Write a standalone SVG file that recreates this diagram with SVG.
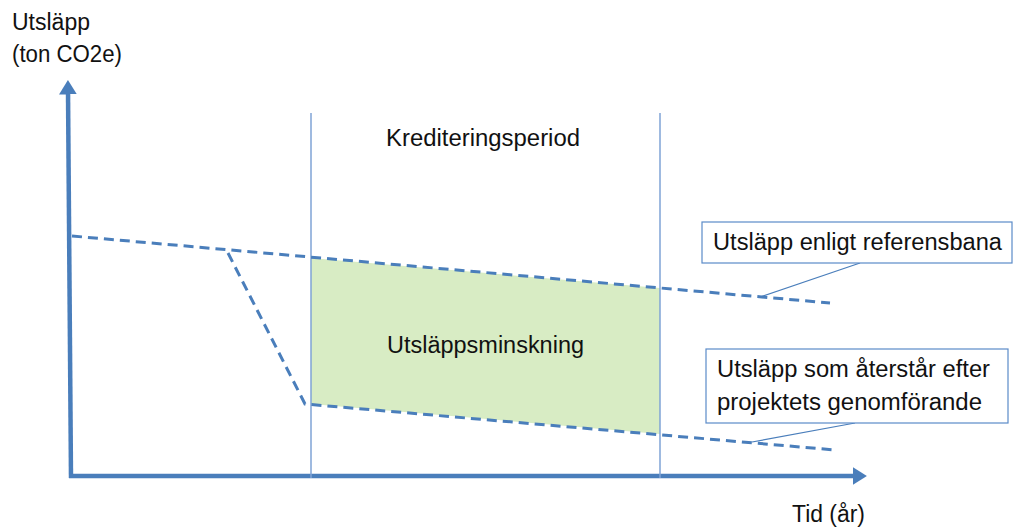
<svg xmlns="http://www.w3.org/2000/svg" width="1013" height="529" viewBox="0 0 1013 529">
<style>
text{font-family:"Liberation Sans",Arial,sans-serif;font-size:23px;fill:#111}
.axis{stroke:#4a7ebb;stroke-width:4.5;fill:none}
.vline{stroke:#7fa3d6;stroke-width:1.5;fill:none}
.dash{stroke:#4a7ebb;stroke-width:3;fill:none;stroke-dasharray:10,6}
.box{fill:#fff;stroke:#5b8bc8;stroke-width:1.2}
.lead{stroke:#4a7ebb;stroke-width:1.2;fill:none}
</style>
<defs>
<marker id="ah" markerWidth="4" markerHeight="4" refX="1" refY="2" orient="auto" markerUnits="strokeWidth"><path d="M0,0 L3.2,2 L0,4 Z" fill="#4a7ebb"/></marker>
</defs>
<g id="area"><polygon points="311,258 660,288 660,434 311,404" fill="#d8ecc4"/></g>
<g id="axes">
<line class="axis" x1="71" y1="478" x2="68" y2="90" marker-end="url(#ah)"/>
<line class="axis" x1="69" y1="476" x2="857" y2="476" marker-end="url(#ah)"/>
</g>
<g id="period">
<line class="vline" x1="311" y1="113" x2="311" y2="478"/>
<line class="vline" x1="660" y1="113" x2="660" y2="478"/>
</g>
<g id="connectors">
<polyline class="dash" points="72,236 830,303"/>
<polyline class="dash" points="228,253 305,404 835,450"/>
<line class="lead" x1="860" y1="263" x2="760" y2="297"/>
<line class="lead" x1="855" y1="423" x2="752" y2="442"/>
</g>
<g id="ylabel"><text x="12" y="30" textLength="78" lengthAdjust="spacingAndGlyphs">Utsläpp</text><text x="12" y="62" textLength="110" lengthAdjust="spacingAndGlyphs">(ton CO2e)</text></g>
<g id="xlabel"><text x="792" y="522" textLength="73" lengthAdjust="spacingAndGlyphs">Tid (år)</text></g>
<g id="period-label"><text x="386" y="146" textLength="194" lengthAdjust="spacingAndGlyphs">Krediteringsperiod</text></g>
<g id="reduction-label"><text x="387" y="353" textLength="197" lengthAdjust="spacingAndGlyphs">Utsläppsminskning</text></g>
<g id="ref-label">
<rect class="box" x="702" y="222" width="310" height="41"/>
<text x="713" y="250" textLength="289" lengthAdjust="spacingAndGlyphs">Utsläpp enligt referensbana</text>
</g>
<g id="proj-label">
<rect class="box" x="706" y="349" width="302" height="74"/>
<text x="717" y="377" textLength="273" lengthAdjust="spacingAndGlyphs">Utsläpp som återstår efter</text>
<text x="717" y="410" textLength="265" lengthAdjust="spacingAndGlyphs">projektets genomförande</text>
</g>
</svg>
